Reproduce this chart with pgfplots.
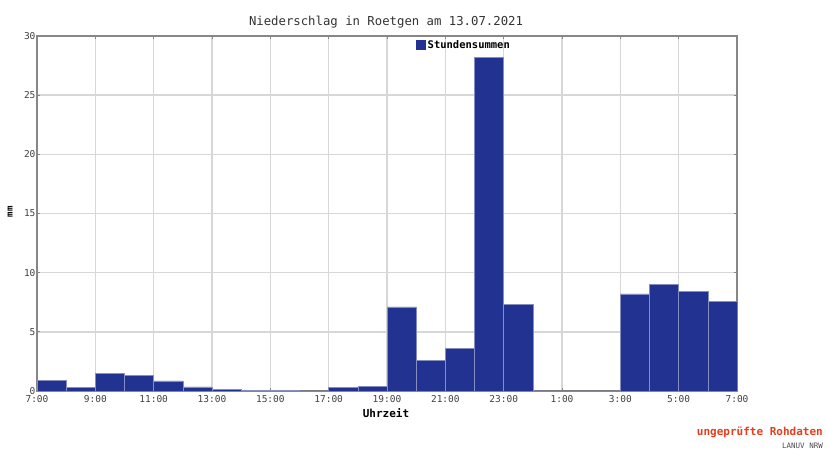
\documentclass[border=0pt]{standalone}
\usepackage{fontspec}
\setmainfont{DejaVu Sans Mono}
\usepackage{pgfplots}
\pgfplotsset{compat=1.18}
\definecolor{barblue}{RGB}{33,50,145}
\definecolor{gridgray}{RGB}{215,215,215}
\definecolor{axgray}{RGB}{135,135,135}
\definecolor{redtxt}{RGB}{228,62,30}
\begin{document}
\begin{tikzpicture}[x=1pt,y=1pt]
\useasboundingbox (0,0) rectangle (826,454);
\begin{axis}[
  at={(37pt,63pt)}, anchor=south west,
  scale only axis, width=700pt, height=355pt,
  xmin=0, xmax=24, ymin=0, ymax=30,
  xtick={0,2,...,24},
  xticklabels={7:00,9:00,11:00,13:00,15:00,17:00,19:00,21:00,23:00,1:00,3:00,5:00,7:00},
  ytick={0,5,...,30},
  grid=major,
  major grid style={gridgray, line width=1.4pt},
  axis line style={axgray, line width=1.8pt},
  major tick length=3pt,
  tick style={axgray, line width=0.8pt},
  tick align=inside,
  xticklabel style={font=\fontsize{9.5}{10}\selectfont, text=black!75, yshift=-1pt},
  yticklabel style={font=\fontsize{9.5}{10}\selectfont, text=black!75, xshift=2pt},
  /pgf/number format/assume math mode=true,
  legend style={at={(rel axis cs:0.54,0.995)}, anchor=north west, draw=none, fill=none,
    font=\bfseries\fontsize{10.5}{11}\selectfont, inner sep=1pt},
  legend image code/.code={\fill[barblue] (0pt,-3.5pt) rectangle (9pt,5pt);},
]
\addplot[ybar interval, fill=barblue, draw=barblue!55!white, line width=0.5pt] coordinates {
(0,0.9) (1,0.3) (2,1.5) (3,1.3) (4,0.85) (5,0.35) (6,0.12) (7,0.05) (8,0.05) (9,0.0)
(10,0.3) (11,0.4) (12,7.1) (13,2.6) (14,3.6) (15,28.2) (16,7.3) (17,0.0) (18,0.0)
(19,0.0) (20,8.2) (21,9.0) (22,8.4) (23,7.6) (24,7.6)};
\addlegendentry{Stundensummen}
\end{axis}
\node[font=\fontsize{12.3}{13}\selectfont, text=black!80] at (386,432) {Niederschlag in Roetgen am 13.07.2021};
\node[font=\bfseries\fontsize{9}{10}\selectfont, rotate=90] at (10,242) {mm};
\node[font=\bfseries\fontsize{11}{12}\selectfont] at (386,41) {Uhrzeit};
\node[font=\bfseries\fontsize{11}{12}\selectfont, text=redtxt, anchor=east, inner sep=0pt] at (823,22) {ungeprüfte Rohdaten};
\node[font=\fontsize{7.5}{8}\selectfont, text=black!70, anchor=east, inner sep=0pt] at (823,8) {LANUV NRW};
\end{tikzpicture}
\end{document}
